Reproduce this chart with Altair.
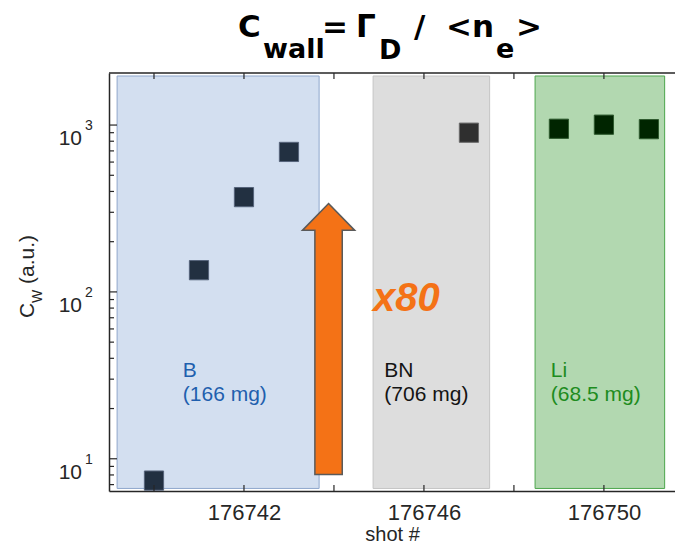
import altair as alt
import pandas as pd

# ---------------- data ----------------
shots = [176740, 176741, 176742, 176743, 176747, 176749, 176750, 176751]
cwall = [7.4, 135, 370, 690, 900, 950, 1005, 945]
material = ["B", "B", "B", "B", "BN", "Li", "Li", "Li"]

region_names = ["B", "BN", "Li"]
region_start = [176739.18, 176744.87, 176748.47]
region_end = [176743.67, 176747.46, 176751.35]
region_low = [6.64, 6.64, 6.64]
region_high = [1968, 1968, 1968]
region_line1 = ["B", "BN", "Li"]
region_line2 = ["(166 mg)", "(706 mg)", "(68.5 mg)"]
label_shot = [176740.64, 176745.12, 176748.82]
label_y1 = [30.8, 30.8, 30.8]
label_y2 = [22.1, 22.1, 22.1]

x_ticks = [176740, 176742, 176744, 176746, 176748, 176750]
x_labels = [176742, 176746, 176750]
y_major = [10, 100, 1000]
y_exp = ["1", "2", "3"]
y_minor = [7, 8, 9, 20, 30, 40, 50, 60, 70, 80, 90,
           200, 300, 400, 500, 600, 700, 800, 900]

arrow_shot = [176743.88]
arrow_mid = [52.2]
x80_shot = [176744.87]
x80_y = [76.6]

# ---------------- styling ----------------
W, H = 566, 418
AX = "#262626"
FONT = "Liberation Sans"

xscale = alt.Scale(domain=[176739.0, 176751.58], zero=False, nice=False)
yscale = alt.Scale(type="log", domain=[6.41, 2051], nice=False)

fill_scale = alt.Scale(domain=region_names, range=["#d3dff0", "#dddddd", "#b2d8b0"])
rstroke_scale = alt.Scale(domain=region_names, range=["#8fa7cc", "#c4c4c4", "#4ca64c"])
pfill_scale = alt.Scale(domain=region_names, range=["#223041", "#2f2f2f", "#002500"])
pstroke_scale = alt.Scale(domain=region_names, range=["#55637a", "#6a6a6a", "#2e5a2e"])
text_scale = alt.Scale(domain=region_names, range=["#1f5fae", "#141414", "#1e8c1e"])

one = pd.DataFrame({"k": [0]})

regions_df = pd.DataFrame({
    "name": region_names, "x0": region_start, "x1": region_end,
    "ylo": region_low, "yhi": region_high,
    "l1": region_line1, "l2": region_line2, "lx": label_shot,
    "ly1": label_y1, "ly2": label_y2,
})
points_df = pd.DataFrame({"shot": shots, "cwall": cwall, "mat": material})

x_axis = alt.Axis(values=x_labels, format="d", ticks=False, tickSize=0, grid=False,
                  domain=True, domainColor=AX, domainWidth=1.5,
                  labelFont=FONT, labelFontSize=22, labelColor=AX,
                  labelPadding=28, labelBaseline="alphabetic",
                  title="shot #", titleFont=FONT, titleFontSize=20,
                  titleFontWeight="normal", titleColor=AX,
                  titleY=49, titleBaseline="alphabetic")
y_axis = alt.Axis(labels=False, ticks=False, grid=False, title=None,
                  domain=True, domainColor=AX, domainWidth=1.5)


def X(field):
    return alt.X(field, scale=xscale, axis=x_axis)


def Y(field):
    return alt.Y(field, scale=yscale, axis=y_axis)


regions = alt.Chart(regions_df).mark_rect(strokeWidth=1).encode(
    x=X("x0:Q"), x2="x1:Q", y=Y("ylo:Q"), y2="yhi:Q",
    fill=alt.Fill("name:N", scale=fill_scale, legend=None),
    stroke=alt.Stroke("name:N", scale=rstroke_scale, legend=None),
)

label1 = alt.Chart(regions_df).mark_text(
    align="left", baseline="alphabetic", font=FONT, fontSize=21
).encode(
    x=X("lx:Q"), y=Y("ly1:Q"), text="l1:N",
    color=alt.Color("name:N", scale=text_scale, legend=None),
)
label2 = alt.Chart(regions_df).mark_text(
    align="left", baseline="alphabetic", font=FONT, fontSize=21
).encode(
    x=X("lx:Q"), y=Y("ly2:Q"), text="l2:N",
    color=alt.Color("name:N", scale=text_scale, legend=None),
)

arrow_path = ("M0,-1 L0.193,-0.802 L0.101,-0.802 L0.101,1 L-0.101,1 "
              "L-0.101,-0.802 L-0.193,-0.802 Z")
arrow = alt.Chart(pd.DataFrame({"x": arrow_shot, "y": arrow_mid})).mark_point(
    shape=arrow_path, size=271 * 271, filled=True, fill="#f47216",
    stroke="#5a5a5a", strokeWidth=1.5, opacity=1, fillOpacity=1
).encode(x=X("x:Q"), y=Y("y:Q"))

x80 = alt.Chart(pd.DataFrame({"x": x80_shot, "y": x80_y})).mark_text(
    text="x80", align="left", baseline="alphabetic", font=FONT, fontSize=40,
    fontWeight="bold", fontStyle="italic", color="#f47216"
).encode(x=X("x:Q"), y=Y("y:Q"))

points = alt.Chart(points_df).mark_square(size=370, strokeWidth=1, opacity=1).encode(
    x=X("shot:Q"), y=Y("cwall:Q"),
    fill=alt.Fill("mat:N", scale=pfill_scale, legend=None),
    stroke=alt.Stroke("mat:N", scale=pstroke_scale, legend=None),
)

# axis ticks (inward) and top frame line
xt_df = pd.DataFrame({"t": x_ticks})
xt_bottom = alt.Chart(xt_df).mark_rule(color=AX, strokeWidth=1.2).encode(
    x=X("t:Q"), y=alt.value(H), y2=alt.value(H - 6))
xt_top = alt.Chart(xt_df).mark_rule(color=AX, strokeWidth=1.2).encode(
    x=X("t:Q"), y=alt.value(0), y2=alt.value(6))
top_line = alt.Chart(one).mark_rule(color=AX, strokeWidth=1.5).encode(
    x=alt.value(0), x2=alt.value(W), y=alt.value(0))

ymaj_df = pd.DataFrame({"v": y_major, "e": y_exp})
ymin_df = pd.DataFrame({"v": y_minor})
yt_major = alt.Chart(ymaj_df).mark_rule(color=AX, strokeWidth=1.2).encode(
    y=Y("v:Q"), x=alt.value(0), x2=alt.value(8))
yt_minor = alt.Chart(ymin_df).mark_rule(color=AX, strokeWidth=1.2).encode(
    y=Y("v:Q"), x=alt.value(0), x2=alt.value(5))
ylab_base = alt.Chart(ymaj_df).mark_text(
    text="10", align="right", baseline="alphabetic", dy=20, font=FONT,
    fontSize=21, color=AX
).encode(y=Y("v:Q"), x=alt.value(-27))
ylab_exp = alt.Chart(ymaj_df).mark_text(
    align="left", baseline="alphabetic", dy=5, font=FONT, fontSize=14, color=AX
).encode(y=Y("v:Q"), x=alt.value(-24), text="e:N")


def piece(text, px, py, size, color, font=FONT, weight="normal", angle=0):
    return alt.Chart(one).mark_text(
        text=text, align="left", baseline="alphabetic", font=font,
        fontSize=size, fontWeight=weight, color=color, angle=angle
    ).encode(x=alt.value(px), y=alt.value(py))


OX, OY = 109, 73  # page position of plot origin
TF = "DejaVu Sans"
title_parts = [
    ("C", 238, 37, 31), ("wall", 263, 58, 27), ("=", 322, 37, 31),
    ("Γ", 356, 37, 31), ("D", 379, 59, 27), ("/", 414, 37, 31),
    ("<n", 446, 37, 31), ("e", 496, 58, 27), (">", 516, 37, 31),
]
title_layers = [piece(t, x - OX, y - OY, s, "#000000", font=TF, weight="bold")
                for t, x, y, s in title_parts]

ytitle_layers = [
    piece("C", 34 - OX, 318 - OY, 21, AX, angle=270),
    piece("W", 42 - OX, 303 - OY, 14, AX, angle=270),
    piece("(a.u.)", 34 - OX, 284 - OY, 21, AX, angle=270),
]

chart = alt.layer(
    regions, arrow, x80, points, label1, label2,
    xt_bottom, xt_top, top_line, yt_major, yt_minor, ylab_base, ylab_exp,
    *title_layers, *ytitle_layers
).resolve_scale(
    fill="independent", stroke="independent", color="independent"
).properties(
    width=W, height=H,
    autosize=alt.AutoSizeParams(type="none"),
    padding={"left": OX - 8, "top": OY - 8, "right": 0, "bottom": 54},
    background="white",
).configure_view(stroke=None)

chart.save("out.html", embed_options={"renderer": "svg", "actions": False})
